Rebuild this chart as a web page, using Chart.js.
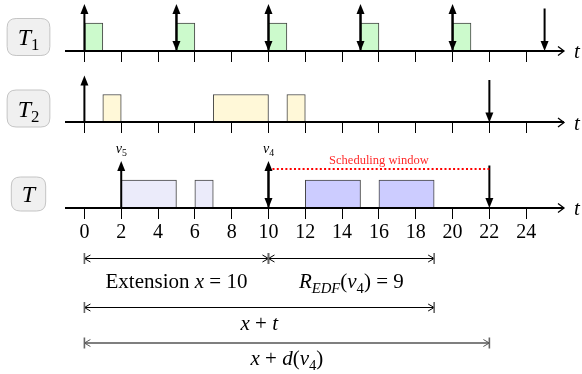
<!DOCTYPE html>
<html><head><meta charset="utf-8">
<script src="https://cdn.jsdelivr.net/npm/chart.js@4/dist/chart.umd.min.js"></script>
<style>html,body{margin:0;padding:0;background:#fff;}canvas{display:block;}</style>
</head><body>
<canvas id="c" width="582" height="374"></canvas>
<script>
// ---------------- data ----------------
const tickValues = [0, 2, 4, 6, 8, 10, 12, 14, 16, 18, 20, 22, 24];
const xLimits = [-1, 26];
const t1Jobs = [[0, 1], [5, 6], [10, 11], [15, 16], [20, 21]];
const t1Releases = [0, 5, 10, 15, 20];
const t1Deadlines = [5, 10, 15, 20, 25];
const t2Jobs = [[1, 2], [7, 10], [11, 12]];
const t2Releases = [0];
const t2Deadlines = [22];
const tJobsBefore = [[2, 5], [6, 7]];
const tJobsAfter = [[12, 15], [16, 19]];
const tReleases = [2, 10];
const tReleaseSubs = ['5', '4'];
const tDeadlines = [10, 22];
const schedulingWindow = [10, 22];
const extensionSpan = [0, 10];
const responseSpan = [10, 19];
const xPlusTSpan = [0, 19];
const xPlusDSpan = [0, 22];

// ---------------- layout / style ----------------
const FONT = '"Liberation Serif", "Times New Roman", serif';
const ROW_BASE = { T1: 51, T2: 122.5, T: 208 };
const DIM_ROWS = [258.5, 307.5, 343];
const BOX_H = 28, RELEASE_H = 47, DEADLINE_H = 42.5;
const COLORS = { T1: '#ccfacc', T2: '#fff8d8', Tpre: '#ebebfa', Tpost: '#ccccff' };

const barData = [], barColors = [];
function addJobs(jobs, base, color) {
  jobs.forEach(j => { barData.push({ x: j, y: base - BOX_H / 2 }); barColors.push(color); });
}
addJobs(t1Jobs, ROW_BASE.T1, COLORS.T1);
addJobs(t2Jobs, ROW_BASE.T2, COLORS.T2);
addJobs(tJobsBefore, ROW_BASE.T, COLORS.Tpre);
addJobs(tJobsAfter, ROW_BASE.T, COLORS.Tpost);

function richWidth(ctx, segs, size) {
  let w = 0;
  segs.forEach(s => { ctx.font = (s.i ? 'italic ' : '') + (s.sub ? size * 0.7 : size) + 'px ' + FONT; s.w = ctx.measureText(s.t).width; w += s.w; });
  return w;
}
function drawRich(ctx, segs, cx, baseline, size) {
  const w = richWidth(ctx, segs, size);
  let x = cx - w / 2;
  ctx.textAlign = 'left'; ctx.textBaseline = 'alphabetic';
  segs.forEach(s => {
    ctx.font = (s.i ? 'italic ' : '') + (s.sub ? size * 0.7 : size) + 'px ' + FONT;
    ctx.fillText(s.t, x, baseline + (s.sub ? size * 0.22 : 0));
    x += s.w;
  });
  return w;
}
function head(ctx, px, tipY, dir) { // dir -1 up, +1 down
  ctx.beginPath();
  ctx.moveTo(px, tipY);
  ctx.lineTo(px - 4, tipY - dir * 10);
  ctx.lineTo(px + 4, tipY - dir * 10);
  ctx.closePath(); ctx.fill();
}
function vArrow(ctx, px, yFrom, yTo) {
  const dir = yTo > yFrom ? 1 : -1;
  ctx.beginPath(); ctx.moveTo(px, yFrom); ctx.lineTo(px, yTo - dir * 6); ctx.stroke();
  head(ctx, px, yTo, dir);
}
function dimLine(ctx, x0, x1, y, color, lw) {
  ctx.save();
  ctx.strokeStyle = color; ctx.lineWidth = lw;
  ctx.beginPath(); ctx.moveTo(x0, y); ctx.lineTo(x1, y); ctx.stroke();
  ctx.lineWidth = 1;
  [[x0, 1], [x1, -1]].forEach(([px, d]) => {
    ctx.beginPath(); ctx.moveTo(px + d * 6, y - 3.5); ctx.lineTo(px, y); ctx.lineTo(px + d * 6, y + 3.5); ctx.stroke();
  });
  ctx.strokeStyle = '#666'; ctx.lineWidth = 1.6;
  [x0, x1].forEach(px => { ctx.beginPath(); ctx.moveTo(px, y - 5.5); ctx.lineTo(px, y + 5.5); ctx.stroke(); });
  ctx.restore();
}
function labelBox(ctx, segs, cx, cy, size, h) {
  const w = richWidth(ctx, segs, size) + 21;
  const x = cx - w / 2, y = cy - h / 2, r = 9;
  ctx.save();
  ctx.beginPath();
  ctx.moveTo(x + r, y); ctx.lineTo(x + w - r, y); ctx.quadraticCurveTo(x + w, y, x + w, y + r);
  ctx.lineTo(x + w, y + h - r); ctx.quadraticCurveTo(x + w, y + h, x + w - r, y + h);
  ctx.lineTo(x + r, y + h); ctx.quadraticCurveTo(x, y + h, x, y + h - r);
  ctx.lineTo(x, y + r); ctx.quadraticCurveTo(x, y, x + r, y); ctx.closePath();
  ctx.fillStyle = '#f0f0f0'; ctx.fill(); ctx.strokeStyle = '#c4c4c4'; ctx.lineWidth = 1; ctx.stroke();
  ctx.restore();
}

const overlay = {
  id: 'overlay',
  afterDraw(chart) {
    const ctx = chart.ctx, xs = chart.scales.x, ys = chart.scales.y;
    const X = v => xs.getPixelForValue(v), Y = v => ys.getPixelForValue(v);
    ctx.save();
    ctx.fillStyle = '#000'; ctx.strokeStyle = '#000';
    // axis arrowheads and t labels
    Object.values(ROW_BASE).forEach(b => {
      const y = Y(b), r = chart.chartArea.right;
      ctx.lineWidth = 1.3;
      ctx.beginPath(); ctx.moveTo(r - 5, y - 4.5); ctx.lineTo(r + 1, y); ctx.lineTo(r - 5, y + 4.5); ctx.stroke();
      ctx.font = 'italic 21px ' + FONT; ctx.textAlign = 'center'; ctx.textBaseline = 'alphabetic';
      ctx.fillText('t', r + 14, y + 7);
    });
    // releases / deadlines
    ctx.lineWidth = 2;
    const rowArrows = [[t1Releases, t1Deadlines, ROW_BASE.T1], [t2Releases, t2Deadlines, ROW_BASE.T2], [tReleases, tDeadlines, ROW_BASE.T]];
    rowArrows.forEach(([rel, dl, b]) => {
      rel.forEach(v => vArrow(ctx, X(v), Y(b), Y(b - RELEASE_H)));
      dl.forEach(v => vArrow(ctx, X(v), Y(b - DEADLINE_H), Y(b)));
    });
    // v labels
    tReleases.forEach((v, i) => drawRich(ctx, [{ t: 'v', i: true }, { t: tReleaseSubs[i], sub: true }], X(v), Y(ROW_BASE.T - RELEASE_H - 8), 14));
    // scheduling window
    const wy = Y(ROW_BASE.T - DEADLINE_H + 3.5);
    ctx.save();
    ctx.strokeStyle = '#ff0000'; ctx.lineWidth = 2; ctx.setLineDash([2, 2.3]);
    ctx.beginPath(); ctx.moveTo(X(schedulingWindow[0]) + 4, wy); ctx.lineTo(X(schedulingWindow[1]), wy); ctx.stroke();
    ctx.restore();
    ctx.fillStyle = '#ff2a2a';
    drawRich(ctx, [{ t: 'Scheduling window' }], X((schedulingWindow[0] + schedulingWindow[1]) / 2), wy - 5.5, 12.5);
    ctx.fillStyle = '#000';
    // label boxes
    const LBL_X = 28.5;
    const rowLabels = [[[{ t: 'T', i: true }, { t: '1', sub: true }], ROW_BASE.T1, 37], [[{ t: 'T', i: true }, { t: '2', sub: true }], ROW_BASE.T2, 37], [[{ t: 'T', i: true }], ROW_BASE.T, 34]];
    rowLabels.forEach(([segs, b, h]) => {
      const cy = Y(b - BOX_H / 2);
      labelBox(ctx, segs, LBL_X, cy, 24, h);
      ctx.fillStyle = '#000';
      drawRich(ctx, segs, LBL_X, cy + 8, 24);
    });
    // dimension lines
    const d1 = Y(DIM_ROWS[0]), d2 = Y(DIM_ROWS[1]), d3 = Y(DIM_ROWS[2]);
    dimLine(ctx, X(extensionSpan[0]), X(extensionSpan[1]), d1, '#000', 1);
    dimLine(ctx, X(responseSpan[0]), X(responseSpan[1]), d1, '#000', 1);
    dimLine(ctx, X(xPlusTSpan[0]), X(xPlusTSpan[1]), d2, '#000', 1);
    dimLine(ctx, X(xPlusDSpan[0]), X(xPlusDSpan[1]), d3, '#555', 1.6);
    ctx.fillStyle = '#000';
    const mid = s => X((s[0] + s[1]) / 2);
    drawRich(ctx, [{ t: 'Extension ' }, { t: 'x', i: true }, { t: ' = ' + (extensionSpan[1] - extensionSpan[0]) }], mid(extensionSpan), d1 + 29.5, 21);
    drawRich(ctx, [{ t: 'R', i: true }, { t: 'EDF', i: true, sub: true }, { t: '(' }, { t: 'v', i: true }, { t: '4', sub: true }, { t: ') = ' + (responseSpan[1] - responseSpan[0]) }], mid(responseSpan), d1 + 29.5, 21);
    drawRich(ctx, [{ t: 'x', i: true }, { t: ' + ' }, { t: 't', i: true }], mid(xPlusTSpan), d2 + 22, 21);
    drawRich(ctx, [{ t: 'x', i: true }, { t: ' + ' }, { t: 'd', i: true }, { t: '(' }, { t: 'v', i: true }, { t: '4', sub: true }, { t: ')' }], mid(xPlusDSpan), d3 + 22, 21);
    ctx.restore();
  }
};

function xAxis(rowKey, showLabels) {
  return {
    type: 'linear', axis: 'x', min: xLimits[0], max: xLimits[1], offset: false,
    position: { y: ROW_BASE[rowKey] },
    afterBuildTicks: s => { s.ticks = tickValues.map(v => ({ value: v })); },
    afterFit: s => { s.height = 0; },
    grid: { drawOnChartArea: false, color: '#000', lineWidth: 1, tickLength: 10 },
    border: { color: '#000', width: 2, z: 1 },
    ticks: { display: showLabels, autoSkip: false, maxRotation: 0, padding: 3, color: '#000', font: { family: FONT, size: 20 } }
  };
}

new Chart(document.getElementById('c'), {
  type: 'bar',
  data: { datasets: [{ data: barData, backgroundColor: barColors, borderColor: '#444', borderWidth: 1, borderSkipped: false, barThickness: BOX_H, xAxisID: 'x', yAxisID: 'y' }] },
  options: {
    indexAxis: 'y', responsive: false, animation: false, devicePixelRatio: 1,
    layout: { padding: { left: 66, right: 19, top: 0, bottom: 0 } },
    plugins: { legend: { display: false }, tooltip: { enabled: false } },
    scales: {
      x: xAxis('T', true),
      x1: xAxis('T2', false),
      x2: xAxis('T1', false),
      y: { type: 'linear', display: false, offset: false, min: 0, max: 374, reverse: true, grid: { offset: false } }
    }
  },
  plugins: [overlay]
});
</script>
</body></html>
